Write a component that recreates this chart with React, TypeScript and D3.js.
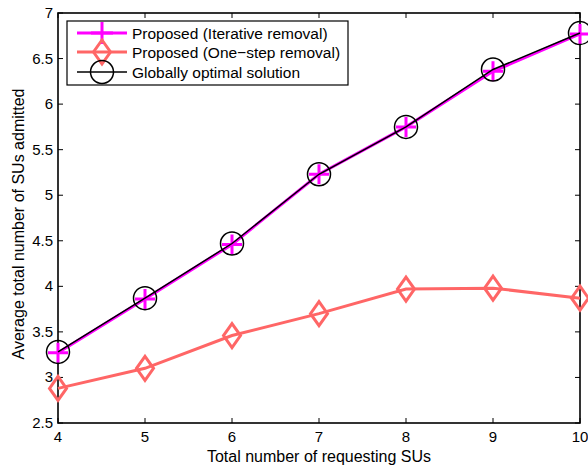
import React from "react";
import * as d3 from "d3";

const xs = [4, 5, 6, 7, 8, 9, 10];
const iterative = [3.27, 3.86, 4.46, 5.23, 5.75, 6.36, 6.77];
const oneStep = [2.88, 3.10, 3.46, 3.70, 3.97, 3.98, 3.87];
const optimal = [3.28, 3.87, 4.47, 5.23, 5.75, 6.38, 6.78];
const xTicks = [4, 5, 6, 7, 8, 9, 10];
const yTicks = [2.5, 3, 3.5, 4, 4.5, 5, 5.5, 6, 6.5, 7];
const legendLabels = ["Proposed (Iterative removal)", "Proposed (One\u2212step removal)", "Globally optimal solution"];

const W = 588, H = 470;
const L = 58, R = 580, T = 13, B = 423;
const FONT = "Liberation Sans, Arial, Helvetica, sans-serif";
const MAG = "#ff00ff";
const PINK = "#ff6666";

export default function App() {
  const x = d3.scaleLinear().domain([4, 10]).range([L, R]);
  const y = d3.scaleLinear().domain([2.5, 7]).range([B, T]);
  const line = (vals: number[]) =>
    d3.line<number>().x((_, i) => x(xs[i])).y((v) => y(v))(vals) || "";
  const tl = 5;
  const diamond = (cx: number, cy: number) =>
    `M${cx},${cy - 12}L${cx + 8.5},${cy}L${cx},${cy + 12}L${cx - 8.5},${cy}Z`;
  const plus = (cx: number, cy: number, s = 10) =>
    `M${cx - s},${cy}H${cx + s}M${cx},${cy - s}V${cy + s}`;

  const ly = [33, 52, 72];
  const lx0 = 77, lx1 = 127, lm = 102;

  return (
    <svg width={W} height={H} style={{ position: "absolute", left: 0, top: 0, background: "#fff" }} fontFamily={FONT}>
      <rect x={0} y={0} width={W} height={H} fill="#fff" />
      {/* ticks */}
      {xTicks.map((t) => (
        <g key={"xt" + t}>
          <line x1={x(t)} x2={x(t)} y1={B} y2={B - tl} stroke="#000" strokeWidth={1} />
          <line x1={x(t)} x2={x(t)} y1={T} y2={T + tl} stroke="#000" strokeWidth={1} />
          <text x={x(t)} y={B + 19} fontSize={15} textAnchor="middle">{t}</text>
        </g>
      ))}
      {yTicks.map((t) => (
        <g key={"yt" + t}>
          <line x1={L} x2={L + tl} y1={y(t)} y2={y(t)} stroke="#000" strokeWidth={1} />
          <line x1={R} x2={R - tl} y1={y(t)} y2={y(t)} stroke="#000" strokeWidth={1} />
          <text x={L - 5} y={y(t) + 5} fontSize={15} textAnchor="end">{t}</text>
        </g>
      ))}
      <rect x={L} y={T} width={R - L} height={B - T} fill="none" stroke="#000" strokeWidth={1.6} />

      {/* series */}
      <path d={line(oneStep)} fill="none" stroke={PINK} strokeWidth={3} />
      {oneStep.map((v, i) => (
        <path key={"d" + i} d={diamond(x(xs[i]), y(v))} fill="none" stroke={PINK} strokeWidth={3} />
      ))}
      <path d={line(iterative)} fill="none" stroke={MAG} strokeWidth={3} />
      {iterative.map((v, i) => (
        <path key={"p" + i} d={plus(x(xs[i]), y(v))} fill="none" stroke={MAG} strokeWidth={3} />
      ))}
      <path d={line(optimal)} fill="none" stroke="#000" strokeWidth={1.5} />
      {optimal.map((v, i) => (
        <circle key={"c" + i} cx={x(xs[i])} cy={y(v)} r={11.5} fill="none" stroke="#000" strokeWidth={1.5} />
      ))}

      {/* legend */}
      <rect x={67} y={21} width={281} height={64} fill="#fff" stroke="#000" strokeWidth={1.2} />
      <line x1={lx0} x2={lx1} y1={ly[0]} y2={ly[0]} stroke={MAG} strokeWidth={3} />
      <path d={plus(lm, ly[0], 11)} stroke={MAG} strokeWidth={3} fill="none" />
      <line x1={lx0} x2={lx1} y1={ly[1]} y2={ly[1]} stroke={PINK} strokeWidth={3} />
      <path d={diamond(lm, ly[1])} stroke={PINK} strokeWidth={3} fill="none" />
      <line x1={lx0} x2={lx1} y1={ly[2]} y2={ly[2]} stroke="#000" strokeWidth={1.5} />
      <circle cx={lm} cy={ly[2]} r={11.5} stroke="#000" strokeWidth={1.5} fill="none" />
      {legendLabels.map((s, i) => (
        <text key={s} x={132} y={ly[i] + 5.5} fontSize={15.5}>{s}</text>
      ))}

      {/* axis labels */}
      <text x={(L + R) / 2} y={462} fontSize={16} textAnchor="middle">Total number of requesting SUs</text>
      <text transform={`translate(24,${(T + B) / 2 + 6}) rotate(-90)`} fontSize={16} textAnchor="middle">
        Average total number of SUs admitted
      </text>
    </svg>
  );
}
